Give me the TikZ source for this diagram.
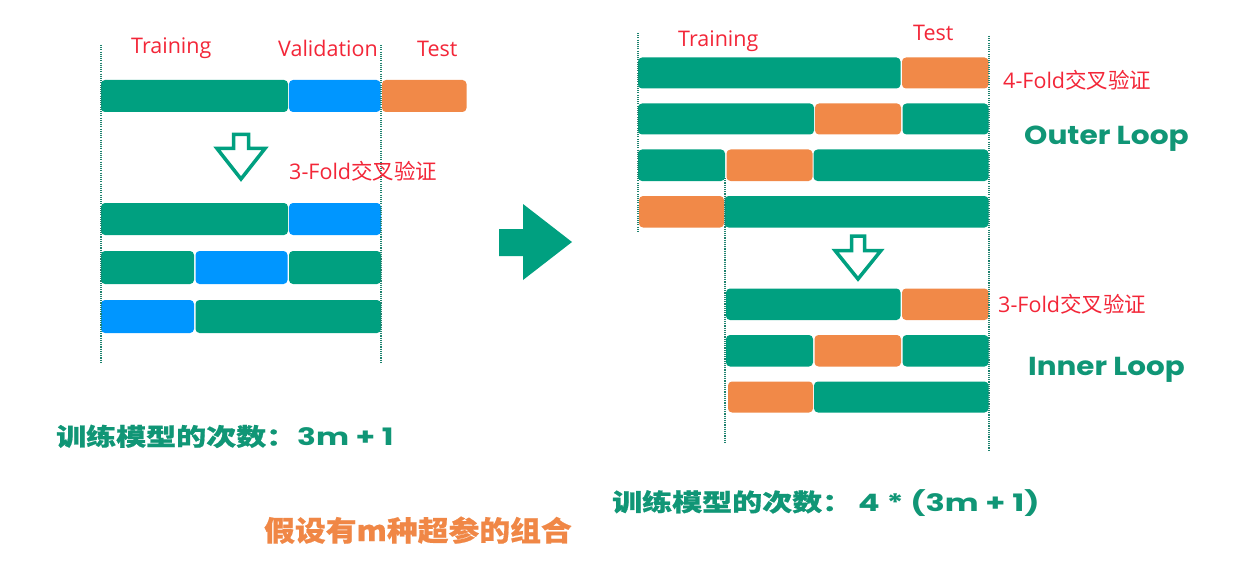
\documentclass[tikz,border=0pt]{standalone}
\usepackage{fontspec}
\setmainfont{Open Sans}
\newfontfamily\cjk{Noto Sans CJK SC}
\newfontfamily\cjkh{Noto Sans CJK SC}[BoldFeatures={FakeBold=0.6}]
\newfontfamily\pop{Poppins}
\definecolor{cgreen}{RGB}{0,160,128}
\definecolor{cblue}{RGB}{0,150,255}
\definecolor{corange}{RGB}{241,137,72}
\definecolor{cred}{RGB}{243,38,56}
\definecolor{cdot}{RGB}{30,130,110}
\definecolor{tgreen}{RGB}{16,150,118}
\definecolor{torange}{RGB}{240,135,70}
\newcommand\segm[5]{\fill[#5,rounded corners=4pt] (#1,#3) rectangle (#2,#4);}
\begin{document}
\begin{tikzpicture}[x=1pt,y=-1pt,
  redlbl/.style={anchor=base west,inner sep=0,text=cred,font=\fontsize{21.5}{24}\selectfont},
  greenlbl/.style={anchor=base west,inner sep=0,text=tgreen,font=\fontsize{24}{28}\selectfont\bfseries},
  looplbl/.style={anchor=base west,inner sep=0,text=tgreen,font=\pop\fontsize{26}{30}\selectfont\bfseries},
  dotl/.style={cdot,line width=1.9pt,dash pattern=on 1.1pt off 1.1pt},
  hollow/.style={draw=cgreen,line width=3.5pt,fill=white,line join=miter}]
\useasboundingbox (0,0) rectangle (1253,567);
\fill[white] (0,0) rectangle (1253,567);

% ---------- left panel bars ----------
\segm{101}{288}{80}{112}{cgreen}
\segm{289}{380.5}{80}{112}{cblue}
\segm{382}{466.5}{80}{112}{corange}

\segm{101}{288}{203}{235}{cgreen}
\segm{289}{381}{203}{235}{cblue}

\segm{101}{194}{251}{284}{cgreen}
\segm{195.5}{287.5}{251}{284}{cblue}
\segm{289}{381}{251}{284}{cgreen}

\segm{101}{194}{300}{333}{cblue}
\segm{195.5}{381}{300}{333}{cgreen}

\draw[dotl] (101,45) -- (101,363);
\draw[dotl] (381,45) -- (381,363);

\draw[hollow] (233.5,134.5) -- (248.5,134.5) -- (248.5,148.5) -- (265,148.5)
  -- (241,179) -- (217,148.5) -- (233.5,148.5) -- cycle;

\node[redlbl] (ltrain) at (131,54) {Training};
\node[redlbl] (lval) at (278,57) {Validation};
\node[redlbl] (ltest) at (417,57) {Test};
\node[redlbl] (lfold) at (289,179) {3-Fold{\cjk 交叉验证}};

% ---------- middle arrow ----------
\fill[cgreen] (499,229) -- (523,229) -- (523,204) -- (572,242) -- (523,280)
  -- (523,256) -- (499,256) -- cycle;

% ---------- right panel: outer loop ----------
\segm{638}{900.5}{57.5}{88.5}{cgreen}
\segm{902}{988.5}{57.5}{88.5}{corange}

\segm{638}{814}{103.5}{134.5}{cgreen}
\segm{815}{901}{103.5}{134.5}{corange}
\segm{902.5}{988.5}{103.5}{134.5}{cgreen}

\segm{638}{725}{149.5}{181}{cgreen}
\segm{726.5}{812.5}{149.5}{181}{corange}
\segm{813.5}{988.5}{149.5}{181}{cgreen}

\segm{639}{724}{196}{227.5}{corange}
\segm{724.5}{988.5}{196}{227.5}{cgreen}

% ---------- inner loop ----------
\segm{726}{900.5}{288.5}{320}{cgreen}
\segm{902}{988.5}{288.5}{320}{corange}

\segm{726}{813}{335}{366.5}{cgreen}
\segm{814.5}{901}{335}{366.5}{corange}
\segm{902.5}{988.5}{335}{366.5}{cgreen}

\segm{728}{813}{381.5}{412.5}{corange}
\segm{814}{988.5}{381.5}{412.5}{cgreen}

\draw[dotl] (638,33) -- (638,232);
\draw[dotl] (989,36) -- (989,450);
\draw[dotl] (725,178) -- (725,443);

\draw[hollow] (851.5,236) -- (864.5,236) -- (864.5,250.5) -- (881,250.5)
  -- (858,279) -- (835,250.5) -- (851.5,250.5) -- cycle;

\node[redlbl] (rtrain) at (678,47) {Training};
\node[redlbl] (rtest) at (913,40.5) {Test};
\node[redlbl] (rfold4) at (1003,88.5) {4-Fold{\cjk 交叉验证}};
\node[redlbl] (rfold3) at (998,312.5) {3-Fold{\cjk 交叉验证}};
\node[looplbl] (outer) at (1024,145) {\scalebox{1.14}[1]{Outer Loop}};
\node[looplbl] (inner) at (1028,375) {\scalebox{1.13}[1]{Inner Loop}};

% ---------- bottom texts ----------
\node[greenlbl] (cnt1) at (56,445.5)
  {\scalebox{1.25}[1]{\cjkh 训练模型的次数：}\hspace{1pt}\scalebox{1.3}[1]{\pop 3m + 1}};
\node[greenlbl] (cnt2) at (612,511)
  {\scalebox{1.25}[1]{\cjkh 训练模型的次数：}\hspace{6pt}\scalebox{1.33}[1]{\pop 4 * (3m + 1)}};
\node[anchor=base west,inner sep=0,text=torange,font=\cjkh\fontsize{28}{32}\selectfont\bfseries]
  (combo) at (264,541) {\scalebox{1.1}[1]{假设有m种超参的组合}};
\end{tikzpicture}
\end{document}
